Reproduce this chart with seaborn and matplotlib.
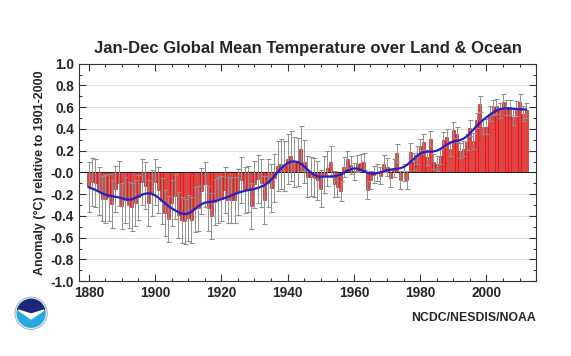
import numpy as np
import pandas as pd
import matplotlib
matplotlib.use("Agg")
import matplotlib.pyplot as plt
from matplotlib.ticker import MultipleLocator
from matplotlib.patches import Circle, Wedge, Polygon
import seaborn as sns

# annual global land+ocean anomaly (deg C, vs 1901-2000)
years = list(range(1880, 2013))
anomaly = [
    -0.13, -0.09, -0.10, -0.17, -0.24, -0.24, -0.23, -0.29, -0.15, -0.10,  # 1880s
    -0.31, -0.25, -0.30, -0.32, -0.28, -0.23, -0.09, -0.12, -0.28, -0.19,  # 1890s
    -0.09, -0.16, -0.26, -0.37, -0.43, -0.28, -0.22, -0.39, -0.44, -0.45,  # 1900s
    -0.42, -0.44, -0.34, -0.33, -0.17, -0.11, -0.33, -0.40, -0.27, -0.25,  # 1910s
    -0.24, -0.16, -0.25, -0.25, -0.25, -0.18, -0.07, -0.16, -0.15, -0.31,  # 1920s
    -0.11, -0.06, -0.10, -0.25, -0.10, -0.14, -0.05, 0.06, 0.08, 0.06,  # 1930s
    0.12, 0.15, 0.10, 0.10, 0.22, 0.10, -0.04, -0.04, -0.05, -0.07,  # 1940s
    -0.15, -0.02, 0.04, 0.10, -0.11, -0.13, -0.17, 0.05, 0.12, 0.07,  # 1950s
    0.01, 0.08, 0.09, 0.10, -0.16, -0.07, -0.02, 0.00, -0.03, 0.08,  # 1960s
    0.05, -0.05, 0.04, 0.18, -0.07, 0.00, -0.07, 0.19, 0.10, 0.16,  # 1970s
    0.24, 0.28, 0.14, 0.31, 0.10, 0.08, 0.15, 0.30, 0.33, 0.22,  # 1980s
    0.39, 0.35, 0.20, 0.22, 0.28, 0.41, 0.29, 0.48, 0.63, 0.42,  # 1990s
    0.42, 0.54, 0.60, 0.61, 0.57, 0.65, 0.60, 0.60, 0.51, 0.59,  # 2000s
    0.65, 0.54, 0.57,  # 2010-2012
]
# half width of the error bars
uncert = [
    0.23, 0.22, 0.22, 0.22, 0.21, 0.22, 0.22, 0.22, 0.21, 0.21,
    0.21, 0.21, 0.21, 0.22, 0.21, 0.21, 0.21, 0.22, 0.21, 0.21,
    0.21, 0.21, 0.21, 0.21, 0.21, 0.21, 0.21, 0.21, 0.21, 0.21,
    0.21, 0.21, 0.21, 0.21, 0.21, 0.21, 0.21, 0.21, 0.21, 0.21,
    0.21, 0.21, 0.21, 0.21, 0.21, 0.21, 0.21, 0.21, 0.21, 0.21,
    0.22, 0.22, 0.22, 0.22, 0.22, 0.22, 0.22, 0.23, 0.23, 0.23,
    0.23, 0.23, 0.23, 0.22, 0.21, 0.20, 0.19, 0.18, 0.18, 0.18,
    0.17, 0.17, 0.16, 0.14, 0.12, 0.10, 0.09, 0.09, 0.08, 0.08,
    0.08, 0.08, 0.08, 0.08, 0.08, 0.08, 0.08, 0.08, 0.08, 0.08,
    0.08, 0.08, 0.08, 0.08, 0.08, 0.08, 0.08, 0.08, 0.08, 0.08,
    0.07, 0.07, 0.07, 0.07, 0.07, 0.07, 0.07, 0.07, 0.07, 0.07,
    0.07, 0.07, 0.07, 0.07, 0.07, 0.07, 0.07, 0.07, 0.07, 0.07,
    0.07, 0.07, 0.07, 0.07, 0.07, 0.07, 0.07, 0.07, 0.07, 0.07,
    0.07, 0.07, 0.07,
]

df = pd.DataFrame({"year": years, "anomaly": anomaly, "err": uncert})

# low-pass curve: gaussian weighted mean, renormalised at the ends
lag = np.arange(-8, 9)
kern = np.exp(-0.5 * (lag / 2.6) ** 2)
vals = df.anomaly.to_numpy()
df["smooth"] = np.convolve(vals, kern, mode="same") / np.convolve(np.ones_like(vals), kern, mode="same")

sns.set_style("ticks")
plt.rcParams["font.family"] = ["Liberation Sans", "DejaVu Sans"]

fig = plt.figure(figsize=(5.71, 3.56), dpi=100)
ax = fig.add_axes([0.138, 0.21, 0.801, 0.611])

for yv in np.arange(-0.8, 0.81, 0.2):
    ax.axhline(yv, color="#dcdcdc", lw=0.6, zorder=0)

sns.barplot(data=df, x="year", y="anomaly", native_scale=True, color="#f43c3c",
            edgecolor="#a81414", linewidth=0.4, errorbar=None, width=0.9,
            saturation=1, ax=ax, zorder=2)
ax.axhline(0, color="#222222", lw=0.7, zorder=2.5)
eb = ax.errorbar(df.year, df.anomaly, yerr=df.err, fmt="none", ecolor="#909090",
                 elinewidth=0.7, capsize=1.8, capthick=0.8, zorder=3)
for cl in eb[1]:
    cl.set_color("#3c3c3c")
sns.lineplot(data=df, x="year", y="smooth", color="#2222c4", lw=1.6, ax=ax, zorder=4)

ax.set_xlim(1877, 2015)
ax.set_ylim(-1.0, 1.0)
ax.set_xticks(range(1880, 2001, 20))
ax.xaxis.set_minor_locator(MultipleLocator(5))
ax.set_yticks(np.round(np.arange(-1.0, 1.01, 0.2), 1))
ax.yaxis.set_minor_locator(MultipleLocator(0.1))
ax.set_yticklabels([f"{v:.1f}" for v in np.arange(-1.0, 1.01, 0.2)])
ax.tick_params(which="both", direction="in", top=True, right=True, color="#333333", width=0.8)
ax.tick_params(which="major", length=5, labelsize=9.8)
ax.tick_params(which="minor", length=2.5)
for lab in ax.get_xticklabels() + ax.get_yticklabels():
    lab.set_fontweight("bold")
for sp in ax.spines.values():
    sp.set_color("#333333")
    sp.set_linewidth(0.8)

ax.set_xlabel("")
ax.set_ylabel("Anomaly (°C) relative to 1901-2000", fontsize=9, fontweight="bold", labelpad=3)
ax.set_title("Jan-Dec Global Mean Temperature over Land & Ocean", fontsize=12,
             fontweight="bold", pad=8)
fig.text(0.938, 0.107, "NCDC/NESDIS/NOAA", ha="right", va="center", fontsize=8.8,
         fontweight="bold")

# small NOAA emblem bottom-left
lax = fig.add_axes([0.012, 0.07, 0.085, 0.1])
lax.set_aspect("equal")
lax.axis("off")
lax.set_xlim(-1.1, 1.1)
lax.set_ylim(-1.1, 1.1)
lax.add_patch(Circle((0, 0), 1.0, color="#e8eef4", ec="#9aa8b8", lw=0.6))
lax.add_patch(Circle((0, 0), 0.86, color="#2aa8dc"))
lax.add_patch(Wedge((0, 0), 0.86, 15, 165, color="#1b2a78"))
lax.add_patch(Polygon([[-0.8, 0.2], [0, -0.35], [0.8, 0.2], [0, -0.05]], color="white"))

fig.savefig("out.png", dpi=100)
